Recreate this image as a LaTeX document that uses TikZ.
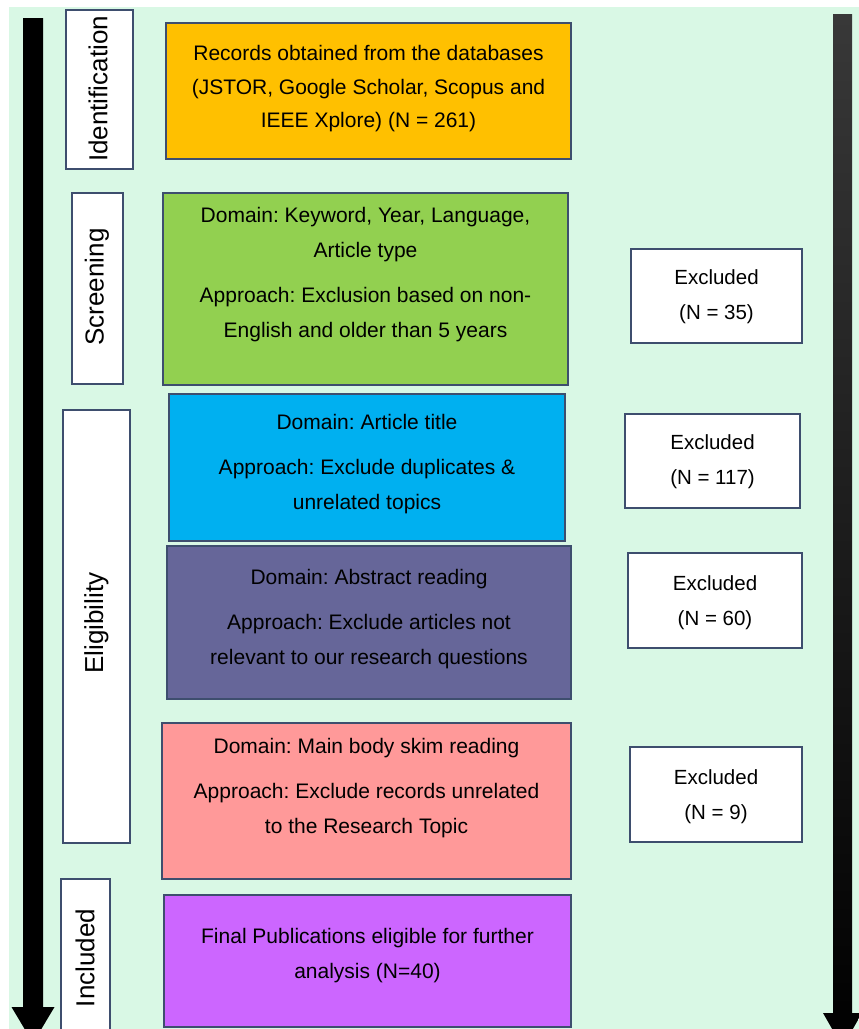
\documentclass[tikz,border=0pt]{standalone}
\usepackage{fontspec}
\setmainfont{Liberation Sans}
\frenchspacing
\definecolor{bg}{RGB}{217,248,229}
\definecolor{bordc}{RGB}{62,78,110}
\definecolor{corange}{RGB}{255,192,0}
\definecolor{cgreen}{RGB}{146,208,80}
\definecolor{cblue}{RGB}{0,176,240}
\definecolor{cslate}{RGB}{102,102,153}
\definecolor{cpink}{RGB}{255,153,153}
\definecolor{cviolet}{RGB}{204,102,255}
\begin{document}
\begin{tikzpicture}[x=1pt,y=-1pt,
  rbox/.style={draw=bordc, line width=1.2pt, inner sep=0pt, outer sep=0pt, anchor=north west},
  stagetxt/.style={rotate=90, font=\fontsize{26}{30}\selectfont, inner sep=0pt},
  maintxt/.style={align=center, font=\fontsize{21}{35}\selectfont, inner sep=0pt},
  exctxt/.style={align=center, font=\fontsize{20.5}{35}\selectfont, inner sep=0pt}]
\useasboundingbox (0,0) rectangle (859,1029);
\clip (0,0) rectangle (859,1029);
\fill[bg] (9,7) rectangle (859,1029);

% side arrows
\coordinate (lt) at (33,18);
\coordinate (lh) at (33,1007);
\fill[black] (23,18) -- (43,18) -- (43,1007) -- (54.5,1007) -- (33,1043) -- (11.5,1007) -- (23,1007) -- cycle;
\coordinate (rt) at (842.5,14);
\coordinate (rh) at (842.5,1013);
\shade[top color=black!78, bottom color=black] (833,14) -- (852,14) -- (852,1013) -- (862,1013) -- (842.5,1047) -- (823,1013) -- (833,1013) -- cycle;

% stage labels
\node[rbox, fill=white, minimum width=67pt, minimum height=159pt] (sid) at (66,10) {};
\node[stagetxt] (tid) at (98,89) {Identification};
\node[rbox, fill=white, minimum width=51pt, minimum height=191pt] (ssc) at (72,193) {};
\node[stagetxt] (tsc) at (97,287) {Screening};
\node[rbox, fill=white, minimum width=67pt, minimum height=433pt] (sel) at (63,410) {};
\node[stagetxt] (tel) at (96.5,623) {Eligibility};
\node[rbox, fill=white, minimum width=49pt, minimum height=170pt] (sin) at (61,879) {};
\node[stagetxt] (tin) at (85,958) {Included};

% main boxes
\node[rbox, fill=corange, minimum width=405pt, minimum height=136pt] (b1) at (166,23) {};
\node[maintxt, font=\fontsize{21}{33.5}\selectfont] (t1) at (368.5,89) {Records obtained from the databases\\(JSTOR, Google Scholar, Scopus and\\IEEE Xplore) (N = 261)};

\node[rbox, fill=cgreen, minimum width=405pt, minimum height=192pt] (b2) at (163,193) {};
\node[maintxt] (t2) at (365.5,274.5) {Domain: Keyword, Year, Language,\\Article type\\[10pt]Approach: Exclusion based on non-\\English and older than 5 years};

\node[rbox, fill=cblue, minimum width=396pt, minimum height=147pt] (b3) at (169,394) {};
\node[maintxt] (t3) at (367,464) {Domain: Article title\\[10pt]Approach: Exclude duplicates \&\\unrelated topics};

\node[rbox, fill=cslate, minimum width=404pt, minimum height=153pt] (b4) at (167,546) {};
\node[maintxt] (t4) at (369,619) {Domain: Abstract reading\\[10pt]Approach: Exclude articles not\\relevant to our research questions};

\node[rbox, fill=cpink, minimum width=409pt, minimum height=156pt] (b5) at (162,723) {};
\node[maintxt] (t5) at (366.5,788) {Domain: Main body skim reading\\[10pt]Approach: Exclude records unrelated\\to the Research Topic};

\node[rbox, fill=cviolet, minimum width=407pt, minimum height=132pt] (b6) at (164,895) {};
\node[maintxt] (t6) at (367.5,955.5) {Final Publications eligible for further\\analysis (N=40)};

% excluded boxes
\node[rbox, fill=white, minimum width=171pt, minimum height=94pt] (e1) at (631,249) {};
\node[exctxt] (x1) at (716.5,296.5) {Excluded\\(N = 35)};
\node[rbox, fill=white, minimum width=175pt, minimum height=94pt] (e2) at (625,414) {};
\node[exctxt] (x2) at (712.5,462) {Excluded\\(N = 117)};
\node[rbox, fill=white, minimum width=174pt, minimum height=95pt] (e3) at (628,553) {};
\node[exctxt] (x3) at (715,602.5) {Excluded\\(N = 60)};
\node[rbox, fill=white, minimum width=172pt, minimum height=95pt] (e4) at (630,747) {};
\node[exctxt] (x4) at (716,796.5) {Excluded\\(N = 9)};
\end{tikzpicture}
\end{document}
